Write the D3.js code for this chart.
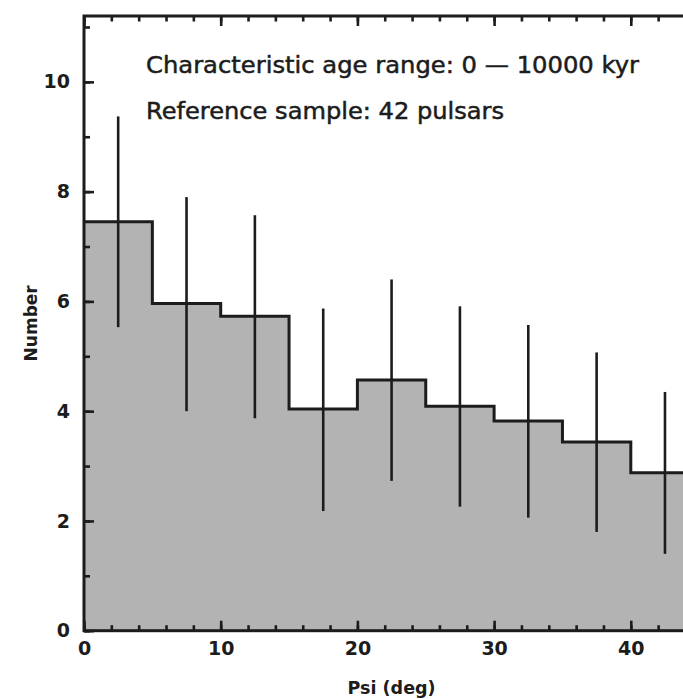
<!DOCTYPE html>
<html lang="en">
<head>
    <meta charset="UTF-8">
    <title>Psi histogram</title>
    <script src="https://cdn.jsdelivr.net/npm/d3@7"></script>
    <style>
        body { margin: 0; background: #fff; }
        svg { display: block; }
    </style>
</head>
<body>
<svg width="683" height="699"></svg>
<script>
    // histogram bins (deg) and counts
    const binStarts = [0, 5, 10, 15, 20, 25, 30, 35, 40]
    const binWidth = 5
    const counts = [7.45, 5.96, 5.73, 4.04, 4.57, 4.09, 3.82, 3.44, 2.88]
    const errLow = [5.53, 4.00, 3.87, 2.18, 2.73, 2.26, 2.06, 1.80, 1.40]
    const errHigh = [9.37, 7.90, 7.57, 5.87, 6.40, 5.91, 5.57, 5.07, 4.35]

    const xMajor = [0, 10, 20, 30, 40]
    const xMinor = d3.range(0, 46, 2)
    const yMajor = [0, 2, 4, 6, 8, 10]
    const yMinor = d3.range(0, 12, 1)

    const textLines = ["Characteristic age range: 0 \u2014 10000 kyr", "Reference sample: 42 pulsars"]

    const plotLeft = 84, plotTop = 16
    const x = d3.scaleLinear().domain([0, 45]).range([plotLeft, plotLeft + 45 * 13.67])
    const y = d3.scaleLinear().domain([0, 11.2]).range([630.7, plotTop])

    const svg = d3.select("svg")
    const ink = "#1c1c1c"

    // step outline points
    const pts = []
    binStarts.forEach((b, i) => {
        pts.push([b, counts[i]])
        pts.push([b + binWidth, counts[i]])
    })

    const area = d3.area().x(d => x(d[0])).y0(y(0)).y1(d => y(d[1]))
    const line = d3.line().x(d => x(d[0])).y(d => y(d[1]))

    svg.append("path").attr("d", area(pts)).attr("fill", "#b3b3b3")
    svg.append("path").attr("d", line(pts))
        .attr("fill", "none").attr("stroke", ink).attr("stroke-width", 3)

    svg.append("g").selectAll("line")
        .data(binStarts)
        .join("line")
        .attr("x1", d => x(d + binWidth / 2)).attr("x2", d => x(d + binWidth / 2))
        .attr("y1", (d, i) => y(errLow[i])).attr("y2", (d, i) => y(errHigh[i]))
        .attr("stroke", ink).attr("stroke-width", 2.6)

    // axes, ticks pointing inward
    function styleAxis(g) {
        g.select(".domain").remove()
        g.selectAll(".tick line").attr("stroke", ink).attr("stroke-width", 2.6)
        g.selectAll("text").attr("fill", ink)
            .attr("font-family", "'DejaVu Sans', sans-serif")
            .attr("font-size", 19).attr("font-weight", "bold")
    }
    const y0 = y(0), y1 = y(11.2), x0 = x(0), x1 = x(45)

    svg.append("g").attr("transform", `translate(0,${y0})`)
        .call(d3.axisBottom(x).tickValues(xMinor).tickSize(-5.5).tickFormat(""))
        .call(styleAxis)
    svg.append("g").attr("transform", `translate(0,${y0})`)
        .call(d3.axisBottom(x).tickValues(xMajor).tickSize(-10).tickPadding(11).tickFormat(d3.format("d")))
        .call(styleAxis)
    svg.append("g").attr("transform", `translate(0,${y1})`)
        .call(d3.axisTop(x).tickValues(xMinor).tickSize(-5.5).tickFormat(""))
        .call(styleAxis)
    svg.append("g").attr("transform", `translate(0,${y1})`)
        .call(d3.axisTop(x).tickValues(xMajor).tickSize(-10).tickFormat(""))
        .call(styleAxis)

    svg.append("g").attr("transform", `translate(${x0},0)`)
        .call(d3.axisLeft(y).tickValues(yMinor).tickSize(-6).tickFormat(""))
        .call(styleAxis)
    svg.append("g").attr("transform", `translate(${x0},0)`)
        .call(d3.axisLeft(y).tickValues(yMajor).tickSize(-10).tickPadding(14).tickFormat(d3.format("d")))
        .call(styleAxis)
    svg.append("g").attr("transform", `translate(${x1},0)`)
        .call(d3.axisRight(y).tickValues(yMinor).tickSize(-6).tickFormat(""))
        .call(styleAxis)

    // frame
    svg.append("rect")
        .attr("x", x0).attr("y", y1).attr("width", x1 - x0).attr("height", y0 - y1)
        .attr("fill", "none").attr("stroke", ink).attr("stroke-width", 3)

    // axis titles
    svg.append("text")
        .attr("x", x(22.5)).attr("y", 694)
        .attr("text-anchor", "middle")
        .attr("font-family", "'DejaVu Sans', sans-serif").attr("font-size", 17.5).attr("font-weight", "bold")
        .attr("fill", ink)
        .text("Psi (deg)")
    svg.append("text")
        .attr("transform", `translate(37,${y(5.6)}) rotate(-90)`)
        .attr("text-anchor", "middle")
        .attr("font-family", "'DejaVu Sans', sans-serif").attr("font-size", 17).attr("font-weight", "bold")
        .attr("fill", ink)
        .text("Number")

    // annotation
    const widths = [493, 358]
    svg.append("g").selectAll("text")
        .data(textLines)
        .join("text")
        .attr("x", 146).attr("y", (d, i) => 73 + i * 46)
        .attr("font-family", "'DejaVu Sans', sans-serif").attr("font-size", 23)
        .attr("fill", ink).attr("stroke", ink).attr("stroke-width", 0.5)
        .attr("textLength", (d, i) => widths[i]).attr("lengthAdjust", "spacingAndGlyphs")
        .text(d => d)
</script>
</body>
</html>
